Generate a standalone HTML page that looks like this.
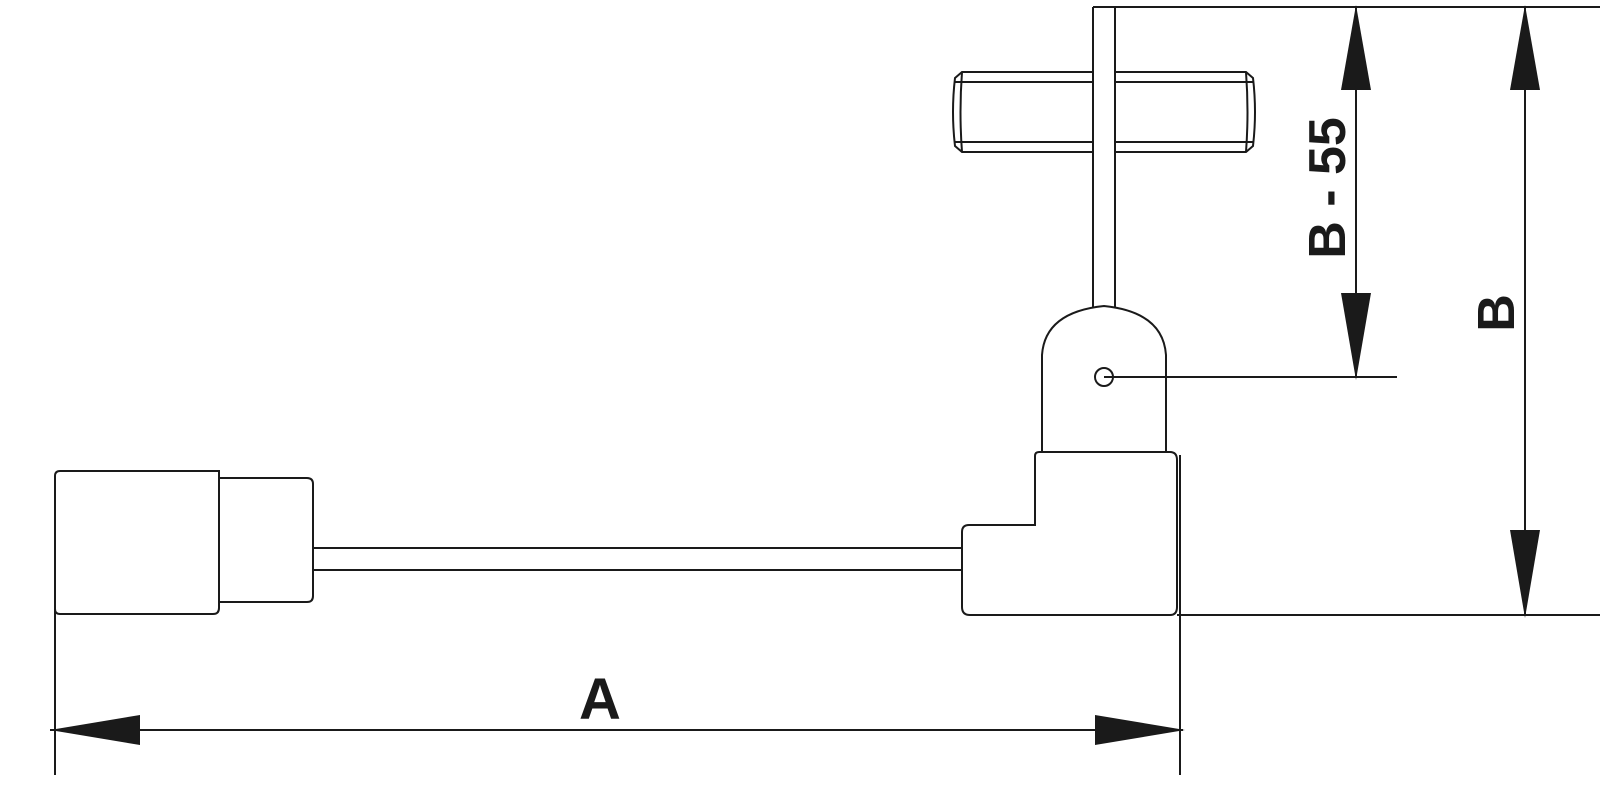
<!DOCTYPE html>
<html><head><style>html,body{margin:0;padding:0;background:#fff}svg{display:block}</style></head><body>
<svg width="1600" height="790" viewBox="0 0 1600 790" xmlns="http://www.w3.org/2000/svg">
<g fill="none" stroke="#1a1a1a" stroke-width="2">
<!-- top line and rod -->
<line x1="1093" y1="7" x2="1600" y2="7"/>
<line x1="1093" y1="7" x2="1093" y2="307"/>
<line x1="1115" y1="7" x2="1115" y2="307"/>
<!-- crossbar -->
<path d="M1093 72 H962 L955 78 Q951 112 955 146 L962 152 H1093"/>
<path d="M1115 72 H1246 L1253 78 Q1257 112 1253 146 L1246 152 H1115"/>
<line x1="955" y1="82" x2="1093" y2="82"/><line x1="1115" y1="82" x2="1253" y2="82"/>
<line x1="955" y1="142" x2="1093" y2="142"/><line x1="1115" y1="142" x2="1253" y2="142"/>
<path d="M962 72 Q959 112 962 152"/><path d="M1246 72 Q1249 112 1246 152"/>
<!-- head -->
<path d="M1042 452 V355 Q1045 312 1104 306 Q1163 312 1166 355 V452"/>
<circle cx="1104" cy="377" r="9"/>
<line x1="1104" y1="377" x2="1397" y2="377"/>
<!-- L block -->
<path d="M1035 525 V456 Q1035 452 1039 452 H1170 Q1177 452 1177 460 V607 Q1177 615 1170 615 H970 Q962 615 962 607 V532 Q962 525 969 525 Z"/>
<!-- rod -->
<line x1="313" y1="548" x2="962" y2="548"/>
<line x1="313" y1="570" x2="962" y2="570"/>
<!-- left parts -->
<path d="M219 471 H60 Q55 471 55 476 V609 Q55 614 60 614 H213 Q219 614 219 608 Z"/>
<path d="M219 478 H307 Q313 478 313 484 V596 Q313 602 307 602 H219"/>
<!-- extension lines -->
<line x1="55" y1="590" x2="55" y2="775"/>
<line x1="1180" y1="455" x2="1180" y2="775"/>
<line x1="1177" y1="615" x2="1600" y2="615"/>
<!-- dim lines -->
<line x1="50" y1="730" x2="1183" y2="730"/>
<line x1="1356" y1="7" x2="1356" y2="377"/>
<line x1="1525" y1="7" x2="1525" y2="615"/>
</g>
<g fill="#1a1a1a">
<polygon points="50,730 140,715 140,745"/>
<polygon points="1185,730 1095,715 1095,745"/>
<polygon points="1356,5 1341,90 1371,90"/>
<polygon points="1356,380 1341,293 1371,293"/>
<polygon points="1525,5 1510,90 1540,90"/>
<polygon points="1525,618 1510,530 1540,530"/>
</g>
<g font-family="'Liberation Sans',sans-serif" font-weight="bold" fill="#1a1a1a">
<text x="600" y="719" font-size="58" text-anchor="middle">A</text>
<text transform="translate(1345,188) rotate(-90)" font-size="52" text-anchor="middle">B - 55</text>
<text transform="translate(1514,313) rotate(-90)" font-size="52" text-anchor="middle">B</text>
</g>
</svg>
</body></html>
